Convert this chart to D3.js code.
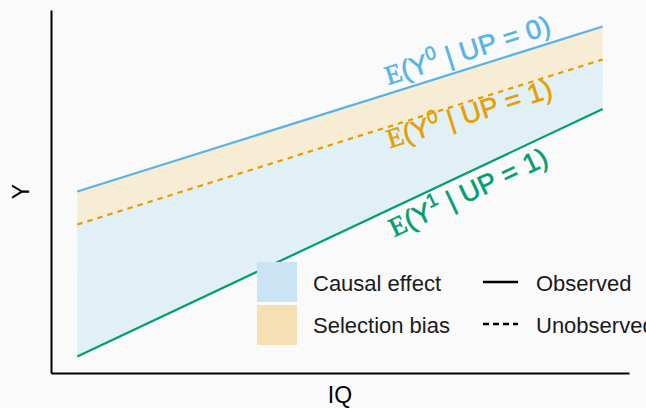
<!DOCTYPE html>
<html>
<head>
<meta charset="utf-8">
<script src="https://cdn.jsdelivr.net/npm/d3@7"></script>
<style>
  html, body { margin: 0; padding: 0; background: #fafafa; }
  svg { display: block; font-family: "Liberation Sans", Arial, sans-serif; }
</style>
</head>
<body>
<svg id="chart" width="646" height="408"></svg>
<script>
// Expected outcome Y by IQ for the three potential-outcome lines
const iq = [70, 130];
const y0Up0 = [5, 10];   // E(Y^0 | UP = 0), observed
const y0Up1 = [4, 9];    // E(Y^0 | UP = 1), unobserved counterfactual
const y1Up1 = [0, 7.5];  // E(Y^1 | UP = 1), observed

const legendFills = ["Causal effect", "Selection bias"];
const legendLines = ["Observed", "Unobserved"];

const panel = { left: 51, right: 629, top: 10, bottom: 373 };

const colBlue = "#56B4E9", colOrange = "#E69F00", colGreen = "#009E73";
const fillCausal = "#e1eff7", fillBias = "#f7ecd4";
const keyCausal = "#cbe4f3", keyBias = "#f5dfb3";

const svg = d3.select("#chart");

// ggplot-style 5% expansion around the data range
function expand([a, b]) { const p = (b - a) * 0.05; return [a - p, b + p]; }
const yAll = [...y0Up0, ...y0Up1, ...y1Up1];

const x = d3.scaleLinear().domain(expand(d3.extent(iq))).range([panel.left, panel.right]);
const y = d3.scaleLinear().domain(expand(d3.extent(yAll))).range([panel.bottom, panel.top]);

const rows = iq.map((v, i) => ({ iq: v, a: y0Up0[i], b: y0Up1[i], c: y1Up1[i] }));

// shaded bands
const band = (lo, hi) => d3.area().x(d => x(d.iq)).y0(d => y(d[lo])).y1(d => y(d[hi]));
svg.append("path").datum(rows).attr("d", band("c", "b")).attr("fill", fillCausal);
svg.append("path").datum(rows).attr("d", band("b", "a")).attr("fill", fillBias);

// outcome lines
const line = key => d3.line().x(d => x(d.iq)).y(d => y(d[key]));
svg.append("path").datum(rows).attr("d", line("a")).attr("fill", "none")
  .attr("stroke", colBlue).attr("stroke-width", 2.2);
svg.append("path").datum(rows).attr("d", line("b")).attr("fill", "none")
  .attr("stroke", colOrange).attr("stroke-width", 2.2).attr("stroke-dasharray", "5.5,5");
svg.append("path").datum(rows).attr("d", line("c")).attr("fill", "none")
  .attr("stroke", colGreen).attr("stroke-width", 2.2);

// line labels, set along each line
const labels = [
  { vals: y0Up0, sup: "0", rest: " | UP = 0)", color: colBlue,   at: 105.5, dy: -9 },
  { vals: y0Up1, sup: "0", rest: " | UP = 1)", color: colOrange, at: 105.7, dy: 22 },
  { vals: y1Up1, sup: "1", rest: " | UP = 1)", color: colGreen,  at: 106.2, dy: 30 }
];
labels.forEach(l => {
  const f = d3.scaleLinear().domain(iq).range(l.vals);
  const px = x(l.at), py = y(f(l.at)) + l.dy;
  const ang = Math.atan2(y(l.vals[1]) - y(l.vals[0]), x(iq[1]) - x(iq[0])) * 180 / Math.PI;
  const t = svg.append("text")
    .attr("transform", `translate(${px},${py}) rotate(${ang})`)
    .attr("fill", l.color).attr("stroke", l.color).attr("stroke-width", 0.6)
    .attr("font-size", 27)
    .attr("textLength", 172).attr("lengthAdjust", "spacing");
  t.append("tspan").attr("font-family", "Liberation Serif, Times New Roman, serif").text("E");
  t.append("tspan").text("(Y");
  t.append("tspan").attr("font-size", 19).attr("dy", -11).text(l.sup);
  t.append("tspan").attr("dy", 11).text(l.rest);
});

// legend
const lg = svg.append("g");
[keyCausal, keyBias].forEach((c, i) => {
  lg.append("rect").attr("x", 257).attr("y", 262 + i * 43).attr("width", 40).attr("height", 40).attr("fill", c);
});
legendFills.forEach((s, i) => {
  lg.append("text").attr("x", 313).attr("y", 291 + i * 42).attr("font-size", 22).attr("fill", "#1a1a1a").text(s);
});
["none", "6,4"].forEach((d, i) => {
  lg.append("line").attr("x1", 483).attr("x2", 518).attr("y1", 282 + i * 42).attr("y2", 282 + i * 42)
    .attr("stroke", "#000").attr("stroke-width", 2.6).attr("stroke-dasharray", d);
});
legendLines.forEach((s, i) => {
  lg.append("text").attr("x", 536).attr("y", 291 + i * 42).attr("font-size", 22).attr("fill", "#1a1a1a").text(s);
});

// axes: plain lines with no ticks
svg.append("g").attr("transform", `translate(0,${panel.bottom})`)
  .call(d3.axisBottom(x).tickValues([]).tickSizeOuter(0))
  .call(g => g.select(".domain").attr("stroke", "#000").attr("stroke-width", 2));
svg.append("g").attr("transform", `translate(${panel.left},0)`)
  .call(d3.axisLeft(y).tickValues([]).tickSizeOuter(0))
  .call(g => g.select(".domain").attr("stroke", "#000").attr("stroke-width", 2));

// axis titles
svg.append("text").attr("x", (panel.left + panel.right) / 2).attr("y", 403)
  .attr("text-anchor", "middle").attr("font-size", 23).attr("fill", "#000").text("IQ");
svg.append("text").attr("transform", `translate(29,${(panel.top + panel.bottom) / 2}) rotate(-90)`)
  .attr("text-anchor", "middle").attr("font-size", 23).attr("fill", "#000").text("Y");
</script>
</body>
</html>
